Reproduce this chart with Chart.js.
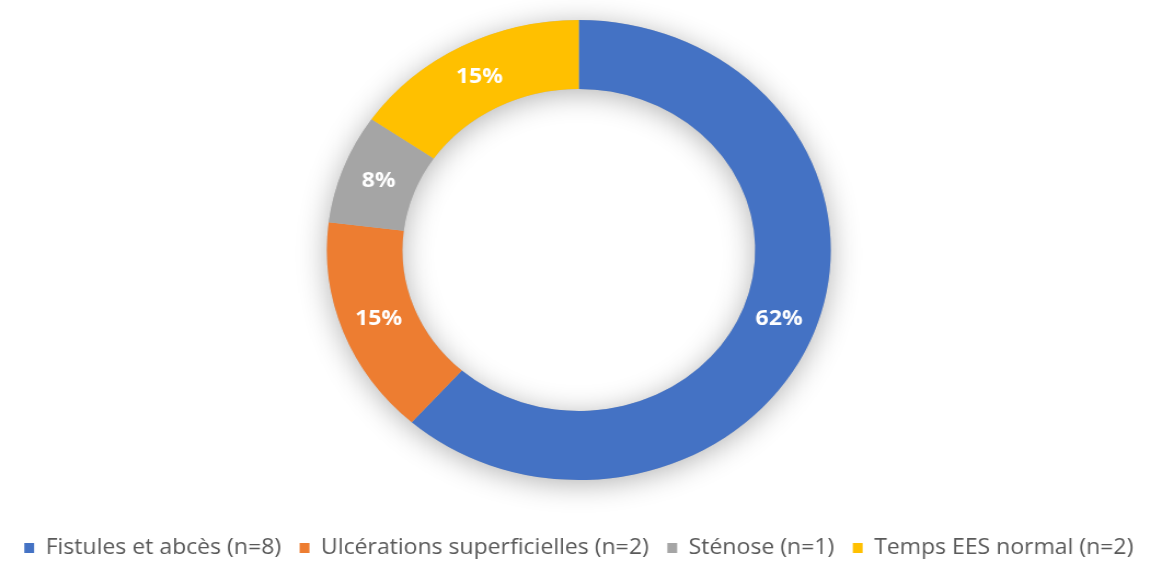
<!DOCTYPE html>
<html>
<head>
<meta charset="utf-8">
<script src="https://cdn.jsdelivr.net/npm/chart.js@4.4.0/dist/chart.umd.min.js"></script>
<style>
  html, body { margin: 0; padding: 0; background: #fff; overflow: hidden; }
  #wrap { width: 1061px; height: 570px; transform: scaleX(1.0952); transform-origin: 0 0; }
</style>
</head>
<body>
<div id="wrap"><canvas id="chart-lesions" width="1061" height="570"></canvas></div>
<script>
var categories = ['Fistules et abcès (n=8)', 'Ulcérations superficielles (n=2)', 'Sténose (n=1)', 'Temps EES normal (n=2)'];
var effectifs = [8, 2, 1, 2];
var couleurs = ['#4472C4', '#ED7D31', '#A5A5A5', '#FFC000'];

var total = effectifs.reduce(function(a, b){ return a + b; }, 0);

// ombre douce sous l'anneau (dessinée avant les secteurs)
var ombreAnneau = {
    id: 'ombreAnneau',
    beforeDatasetsDraw: function(chart) {
        var arc = chart.getDatasetMeta(0).data[0];
        if (!arc) return;
        var ctx = chart.ctx;
        ctx.save();
        ctx.shadowColor = 'rgba(0,0,0,0.30)';
        ctx.shadowBlur = 28;
        ctx.shadowOffsetY = 4;
        ctx.fillStyle = '#bbbbbb';
        ctx.beginPath();
        ctx.arc(arc.x, arc.y, arc.outerRadius, 0, Math.PI * 2);
        ctx.arc(arc.x, arc.y, arc.innerRadius, Math.PI * 2, 0, true);
        ctx.closePath();
        ctx.fill();
        ctx.restore();
    }
};

// pourcentages au milieu de chaque secteur
var etiquettes = {
    id: 'etiquettes',
    afterDatasetsDraw: function(chart) {
        var ctx = chart.ctx;
        var meta = chart.getDatasetMeta(0);
        ctx.save();
        ctx.fillStyle = '#ffffff';
        ctx.font = 'bold 21px "Open Sans", sans-serif';
        ctx.textAlign = 'center';
        ctx.textBaseline = 'middle';
        meta.data.forEach(function(el, i) {
            var p = el.getCenterPoint();
            var pct = Math.round(effectifs[i] / total * 100) + '%';
            ctx.fillText(pct, p.x, p.y);
        });
        ctx.restore();
    }
};

new Chart(document.getElementById('chart-lesions'), {
    type: 'doughnut',
    data: {
        labels: categories,
        datasets: [{
            data: effectifs,
            backgroundColor: couleurs,
            borderWidth: 0
        }]
    },
    options: {
        responsive: false,
        animation: false,
        cutout: '70%',
        layout: { padding: { top: 20, bottom: 1.5, right: 4 } },
        plugins: {
            legend: {
                position: 'bottom',
                // titre vide : sert d'espace entre l'anneau et la légende
                title: { display: true, text: ' ', font: { size: 12 }, padding: { top: 26, bottom: 0 } },
                labels: {
                    color: '#595959',
                    font: { family: 'Open Sans', size: 21 },
                    boxWidth: 9,
                    boxHeight: 10,
                    padding: 17
                }
            },
            tooltip: { enabled: false }
        }
    },
    plugins: [ombreAnneau, etiquettes]
});
</script>
</body>
</html>
